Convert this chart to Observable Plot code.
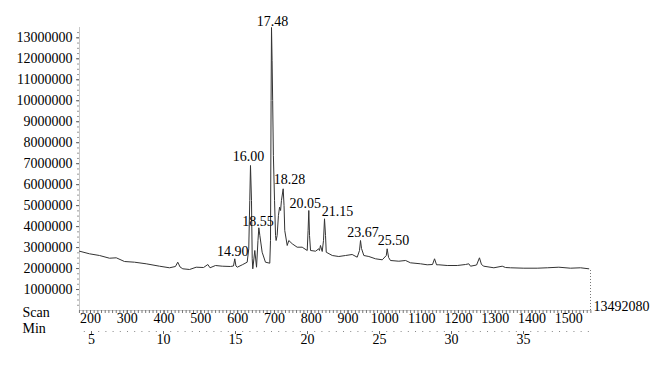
<!DOCTYPE html>
<html><head><meta charset="utf-8">
<script src="https://cdn.jsdelivr.net/npm/d3@7"></script>
<script src="https://cdn.jsdelivr.net/npm/@observablehq/plot@0.6"></script>
<style>body{margin:0;background:#fff} svg{font-family:"Liberation Serif",serif}</style>
</head><body><div id="chart"></div>
<script>
// Retention time (min) and abundance of the total ion chromatogram
const timeMin = [4.17,4.86,5.56,6.25,6.72,7.29,7.99,8.80,9.72,10.42,10.83,10.99,11.15,11.34,11.81,12.27,12.78,13.08,13.23,13.61,14.08,14.65,14.86,14.95,15.03,15.12,15.47,15.81,15.92,15.99,16.04,16.11,16.16,16.20,16.34,16.46,16.56,16.62,16.69,16.85,17.08,17.38,17.43,17.47,17.50,17.54,17.58,17.63,17.71,17.78,17.82,17.89,17.98,18.06,18.13,18.19,18.31,18.37,18.42,18.59,18.70,18.94,19.28,19.63,19.98,20.04,20.09,20.14,20.21,20.56,20.78,20.83,20.90,21.02,21.11,21.18,21.25,21.30,21.72,22.17,22.64,23.10,23.45,23.61,23.68,23.75,23.91,24.26,24.72,25.19,25.47,25.53,25.63,25.76,26.34,26.81,27.15,27.85,28.31,28.68,28.82,28.96,29.12,29.70,30.40,30.97,31.20,31.32,31.74,31.94,32.08,32.24,32.94,33.52,33.75,34.10,35.02,35.95,36.65,37.45,38.26,38.96,39.53];
const abundance = [2827000,2703000,2622000,2493000,2512000,2336000,2303000,2226000,2112000,2036000,2098000,2303000,2074000,1988000,1955000,2064000,2050000,2193000,2036000,2145000,2112000,2098000,2122000,2465000,2122000,2064000,2179000,2303000,2942000,5244000,6913000,5244000,2465000,1988000,2861000,2064000,3337000,3943000,3576000,2779000,2303000,2255000,3337000,10010000,13492080,11920000,10010000,7390000,5244000,3576000,3337000,3576000,4529000,4925000,4768000,5244000,5802000,5006000,3814000,3099000,3337000,3180000,3018000,3018000,2861000,3814000,4768000,3576000,2861000,2827000,2942000,2861000,3099000,2813000,3337000,4372000,3576000,2779000,2622000,2574000,2622000,2670000,2541000,2861000,3337000,2956000,2622000,2574000,2465000,2417000,2622000,2942000,2527000,2384000,2350000,2384000,2274000,2226000,2179000,2193000,2465000,2179000,2179000,2145000,2145000,2193000,2226000,2112000,2169000,2512000,2193000,2112000,2036000,2112000,2050000,2036000,2017000,2017000,2036000,2064000,2017000,2036000,1988000];

// Peak annotations
const peakLabels = ["14.90","16.00","18.55","17.48","18.28","20.05","21.15","23.67","25.50"];
const peakLabelTime = [14.81,15.90,16.56,17.57,18.75,19.84,22.08,23.85,25.97];
const peakLabelAbundance = [2789000,7318000,4219000,13754000,6222000,5077000,4696000,3695000,3313000];

// Axis tick labels
const yTicks = [1000000,2000000,3000000,4000000,5000000,6000000,7000000,8000000,9000000,10000000,11000000,12000000,13000000];
const scanTicks = [200,300,400,500,600,700,800,900,1000,1100,1200,1300,1400,1500];
const minTicks = [5,10,15,20,25,30,35];
const maxAbundance = 13492080;

// scan <-> minute calibration
const scanRef = 200, minAtScanRef = 4.93, scansPerMin = 39.14;
const toMin = s => minAtScanRef + (s - scanRef) / scansPerMin;
const xDomain = [4.167, 39.65];

const data = timeMin.map((t, i) => ({t, v: abundance[i]}));
const scanMinor = d3.range(170, 1561, 10).map(toMin);
const scanByMin = new Map(scanTicks.map(s => [toMin(s), s]));
const minMinor = d3.range(4.5, 39.6, 0.5);
const yMinor = d3.range(250000, 13500000, 250000);

const chart = Plot.plot({
  width: 665, height: 371,
  marginLeft: 79, marginRight: 75, marginTop: 27, marginBottom: 61,
  style: {fontFamily: "Liberation Serif, serif", fontSize: "14px", color: "#000", background: "#fff"},
  x: {domain: xDomain, axis: null, label: null},
  y: {domain: [0, maxAbundance], axis: null, label: null},
  marks: [
    Plot.ruleX([xDomain[0]], {stroke: "#c8c8c8"}),
    Plot.ruleY([0], {stroke: "#c8c8c8"}),
    Plot.axisY(yMinor, {label: null, tickSize: 2, tickFormat: () => "", stroke: "#999"}),
    Plot.axisY(yTicks, {label: null, tickSize: 3, tickPadding: 4, tickFormat: d => String(d), fontSize: 14, stroke: "#666"}),
    Plot.axisX(scanMinor, {label: null, tickSize: 3, tickFormat: () => "", stroke: "#777"}),
    Plot.axisX([...scanByMin.keys()], {label: null, tickSize: 3, tickPadding: 0, tickFormat: d => String(scanByMin.get(d)), fontSize: 14, stroke: "#666"}),
    Plot.axisX(minMinor, {label: null, dy: 21, tickSize: 1, tickFormat: () => "", stroke: "#888"}),
    Plot.axisX(minTicks, {label: null, dy: 21, tickSize: 3, tickPadding: 0, tickFormat: d => String(d), fontSize: 14, stroke: "#666"}),
    Plot.text(["Scan"], {frameAnchor: "bottom-left", dx: -57, dy: 2, textAnchor: "start", lineAnchor: "middle", fontSize: 14}),
    Plot.text(["Min"], {frameAnchor: "bottom-left", dx: -57, dy: 18, textAnchor: "start", lineAnchor: "middle", fontSize: 14}),
    Plot.ruleX([xDomain[1]], {y1: 0, y2: abundance[abundance.length - 1], stroke: "#777", strokeDasharray: "1,2"}),
    Plot.line(data, {x: "t", y: "v", stroke: "#333", strokeWidth: 1}),
    Plot.text(peakLabels, {x: (d, i) => peakLabelTime[i], y: (d, i) => peakLabelAbundance[i], text: d => d, lineAnchor: "middle", fontSize: 14}),
    Plot.text([maxAbundance], {x: xDomain[1], y: 0, text: d => String(d), textAnchor: "start", dx: 3, dy: -4, lineAnchor: "middle", fontSize: 14})
  ]
});
document.getElementById("chart").appendChild(chart);
</script>
</body></html>
